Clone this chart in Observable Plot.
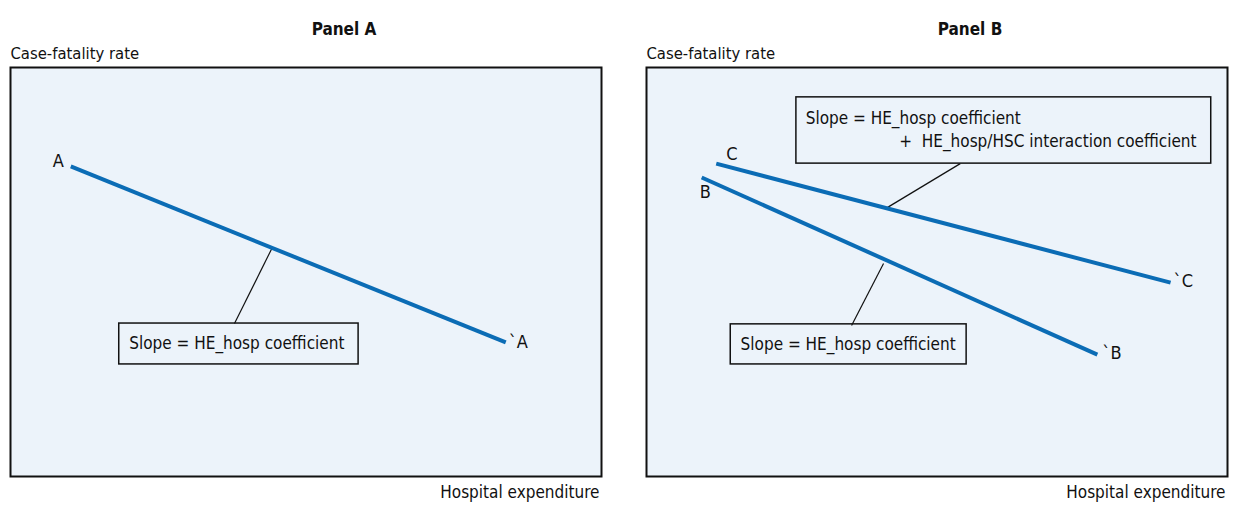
<!DOCTYPE html>
<html>
<head>
<meta charset="utf-8">
<script src="https://cdn.jsdelivr.net/npm/d3@7"></script>
<script src="https://cdn.jsdelivr.net/npm/@observablehq/plot@0.6"></script>
<style>
  html, body { margin: 0; padding: 0; background: #fff; }
  #wrap { display: flex; width: 1237px; height: 507px; }
  svg { font-family: "Liberation Sans Narrow", "DejaVu Sans Condensed", "Roboto", sans-serif; }
</style>
</head>
<body>
<div id="wrap"></div>
<script>
// ---- Data (abstract units, 0–100 on each axis of a panel) ----
const panels = ["Panel A", "Panel B"];
const seriesNames = ["A", "B", "C"];
const seriesPanel = ["Panel A", "Panel B", "Panel B"];
const startX = [10.2, 9.5, 12.0];
const startY = [75.8, 73.1, 76.5];
const endX = [83.8, 77.6, 90.2];
const endY = [32.8, 29.8, 47.4];
const startLabels = ["A", "B", "C"];
const endLabels = ["`A", "`B", "`C"];

// annotations
const notePanel = ["Panel A", "Panel B", "Panel B"];
const noteLines = [
  ["Slope = HE_hosp coefficient"],
  ["Slope = HE_hosp coefficient"],
  ["Slope = HE_hosp coefficient", "+  HE_hosp/HSC interaction coefficient"]
];
const noteBoxX1 = [18.4, 14.5, 25.8];
const noteBoxX2 = [58.9, 55.1, 97.2];
const noteBoxY1 = [27.4, 27.4, 76.5];
const noteBoxY2 = [37.4, 37.2, 92.7];
const noteTextX = [[20.1], [16.2], [27.4, 43.5]];
const noteTextY = [[32.5], [32.3], [87.5, 81.9]];
const leaderX1 = [44.2, 40.8, 54.0];
const leaderY1 = [55.7, 52.1, 76.5];
const leaderX2 = [37.9, 35.3, 41.5];
const leaderY2 = [37.4, 36.9, 65.8];

const yLabel = "Case-fatality rate";
const xLabel = "Hospital expenditure";

// ---- Build tables ----
const lines = seriesNames.map((s, i) => ({
  panel: seriesPanel[i], series: s,
  x1: startX[i], y1: startY[i], x2: endX[i], y2: endY[i],
  start: startLabels[i], end: endLabels[i]
}));
const notes = notePanel.map((p, i) => ({
  panel: p, bx1: noteBoxX1[i], bx2: noteBoxX2[i], by1: noteBoxY1[i], by2: noteBoxY2[i],
  lx1: leaderX1[i], ly1: leaderY1[i], lx2: leaderX2[i], ly2: leaderY2[i]
}));
const noteTexts = notePanel.flatMap((p, i) => noteLines[i].map((t, j) => ({
  panel: p, text: t, x: noteTextX[i][j], y: noteTextY[i][j]
})));

// label styling (offsets in px)
const startStyle = {
  A: {textAnchor: "end", dx: -7, dy: -5},
  B: {textAnchor: "start", dx: -2, dy: 15},
  C: {textAnchor: "start", dx: 10, dy: -9}
};
const endStyle = {
  A: {dx: 3, dy: 0},
  B: {dx: 5, dy: -1},
  C: {dx: 3, dy: -1}
};

const lineColor = "#0b6cb5";
const fs = 18;
const noteFs = 17;

function panelPlot(panel, width, ml, mr, titleDx) {
  const L = lines.filter(d => d.panel === panel);
  const N = notes.filter(d => d.panel === panel);
  const T = noteTexts.filter(d => d.panel === panel);
  const marks = [
    Plot.frame({fill: "#ecf3fa", stroke: "#111", strokeWidth: 2}),
    Plot.rect(N, {x1: "bx1", x2: "bx2", y1: "by1", y2: "by2", fill: "none", stroke: "#111", strokeWidth: 1.5}),
    Plot.link(N, {x1: "lx1", y1: "ly1", x2: "lx2", y2: "ly2", stroke: "#111", strokeWidth: 1.2}),
    Plot.link(L, {x1: "x1", y1: "y1", x2: "x2", y2: "y2", stroke: lineColor, strokeWidth: 4}),
    Plot.text(T, {x: "x", y: "y", text: "text", textAnchor: "start", fontSize: noteFs, fill: "#111"}),
    Plot.text([panel], {frameAnchor: "top", text: d => d, dx: titleDx, dy: -45, fontSize: 17, fontWeight: "bold", fill: "#111", style: "letter-spacing:0.6px"}),
    Plot.text([yLabel], {frameAnchor: "top-left", text: d => d, dx: 0, dy: -20, textAnchor: "start", fontSize: 16.5, fill: "#111"}),
    Plot.text([xLabel], {frameAnchor: "bottom-right", text: d => d, dx: -2, dy: 21, textAnchor: "end", fontSize: 17, fill: "#111"})
  ];
  for (const d of L) {
    const s = startStyle[d.series], e = endStyle[d.series];
    marks.push(Plot.text([d], {x: "x1", y: "y1", text: "start", textAnchor: s.textAnchor, dx: s.dx, dy: s.dy, fontSize: fs, fill: "#111"}));
    marks.push(Plot.text([d], {x: "x2", y: "y2", text: "end", textAnchor: "start", dx: e.dx, dy: e.dy, fontSize: fs, fill: "#111"}));
  }
  return Plot.plot({
    width, height: 507,
    marginLeft: ml, marginRight: mr, marginTop: 67, marginBottom: 31,
    x: {domain: [0, 100], axis: null},
    y: {domain: [0, 100], axis: null},
    style: {background: "#fff", overflow: "visible"},
    marks
  });
}

const wrap = document.getElementById("wrap");
wrap.appendChild(panelPlot("Panel A", 618, 10, 17, 38));
wrap.appendChild(panelPlot("Panel B", 619, 28, 10, 33));
</script>
</body>
</html>
